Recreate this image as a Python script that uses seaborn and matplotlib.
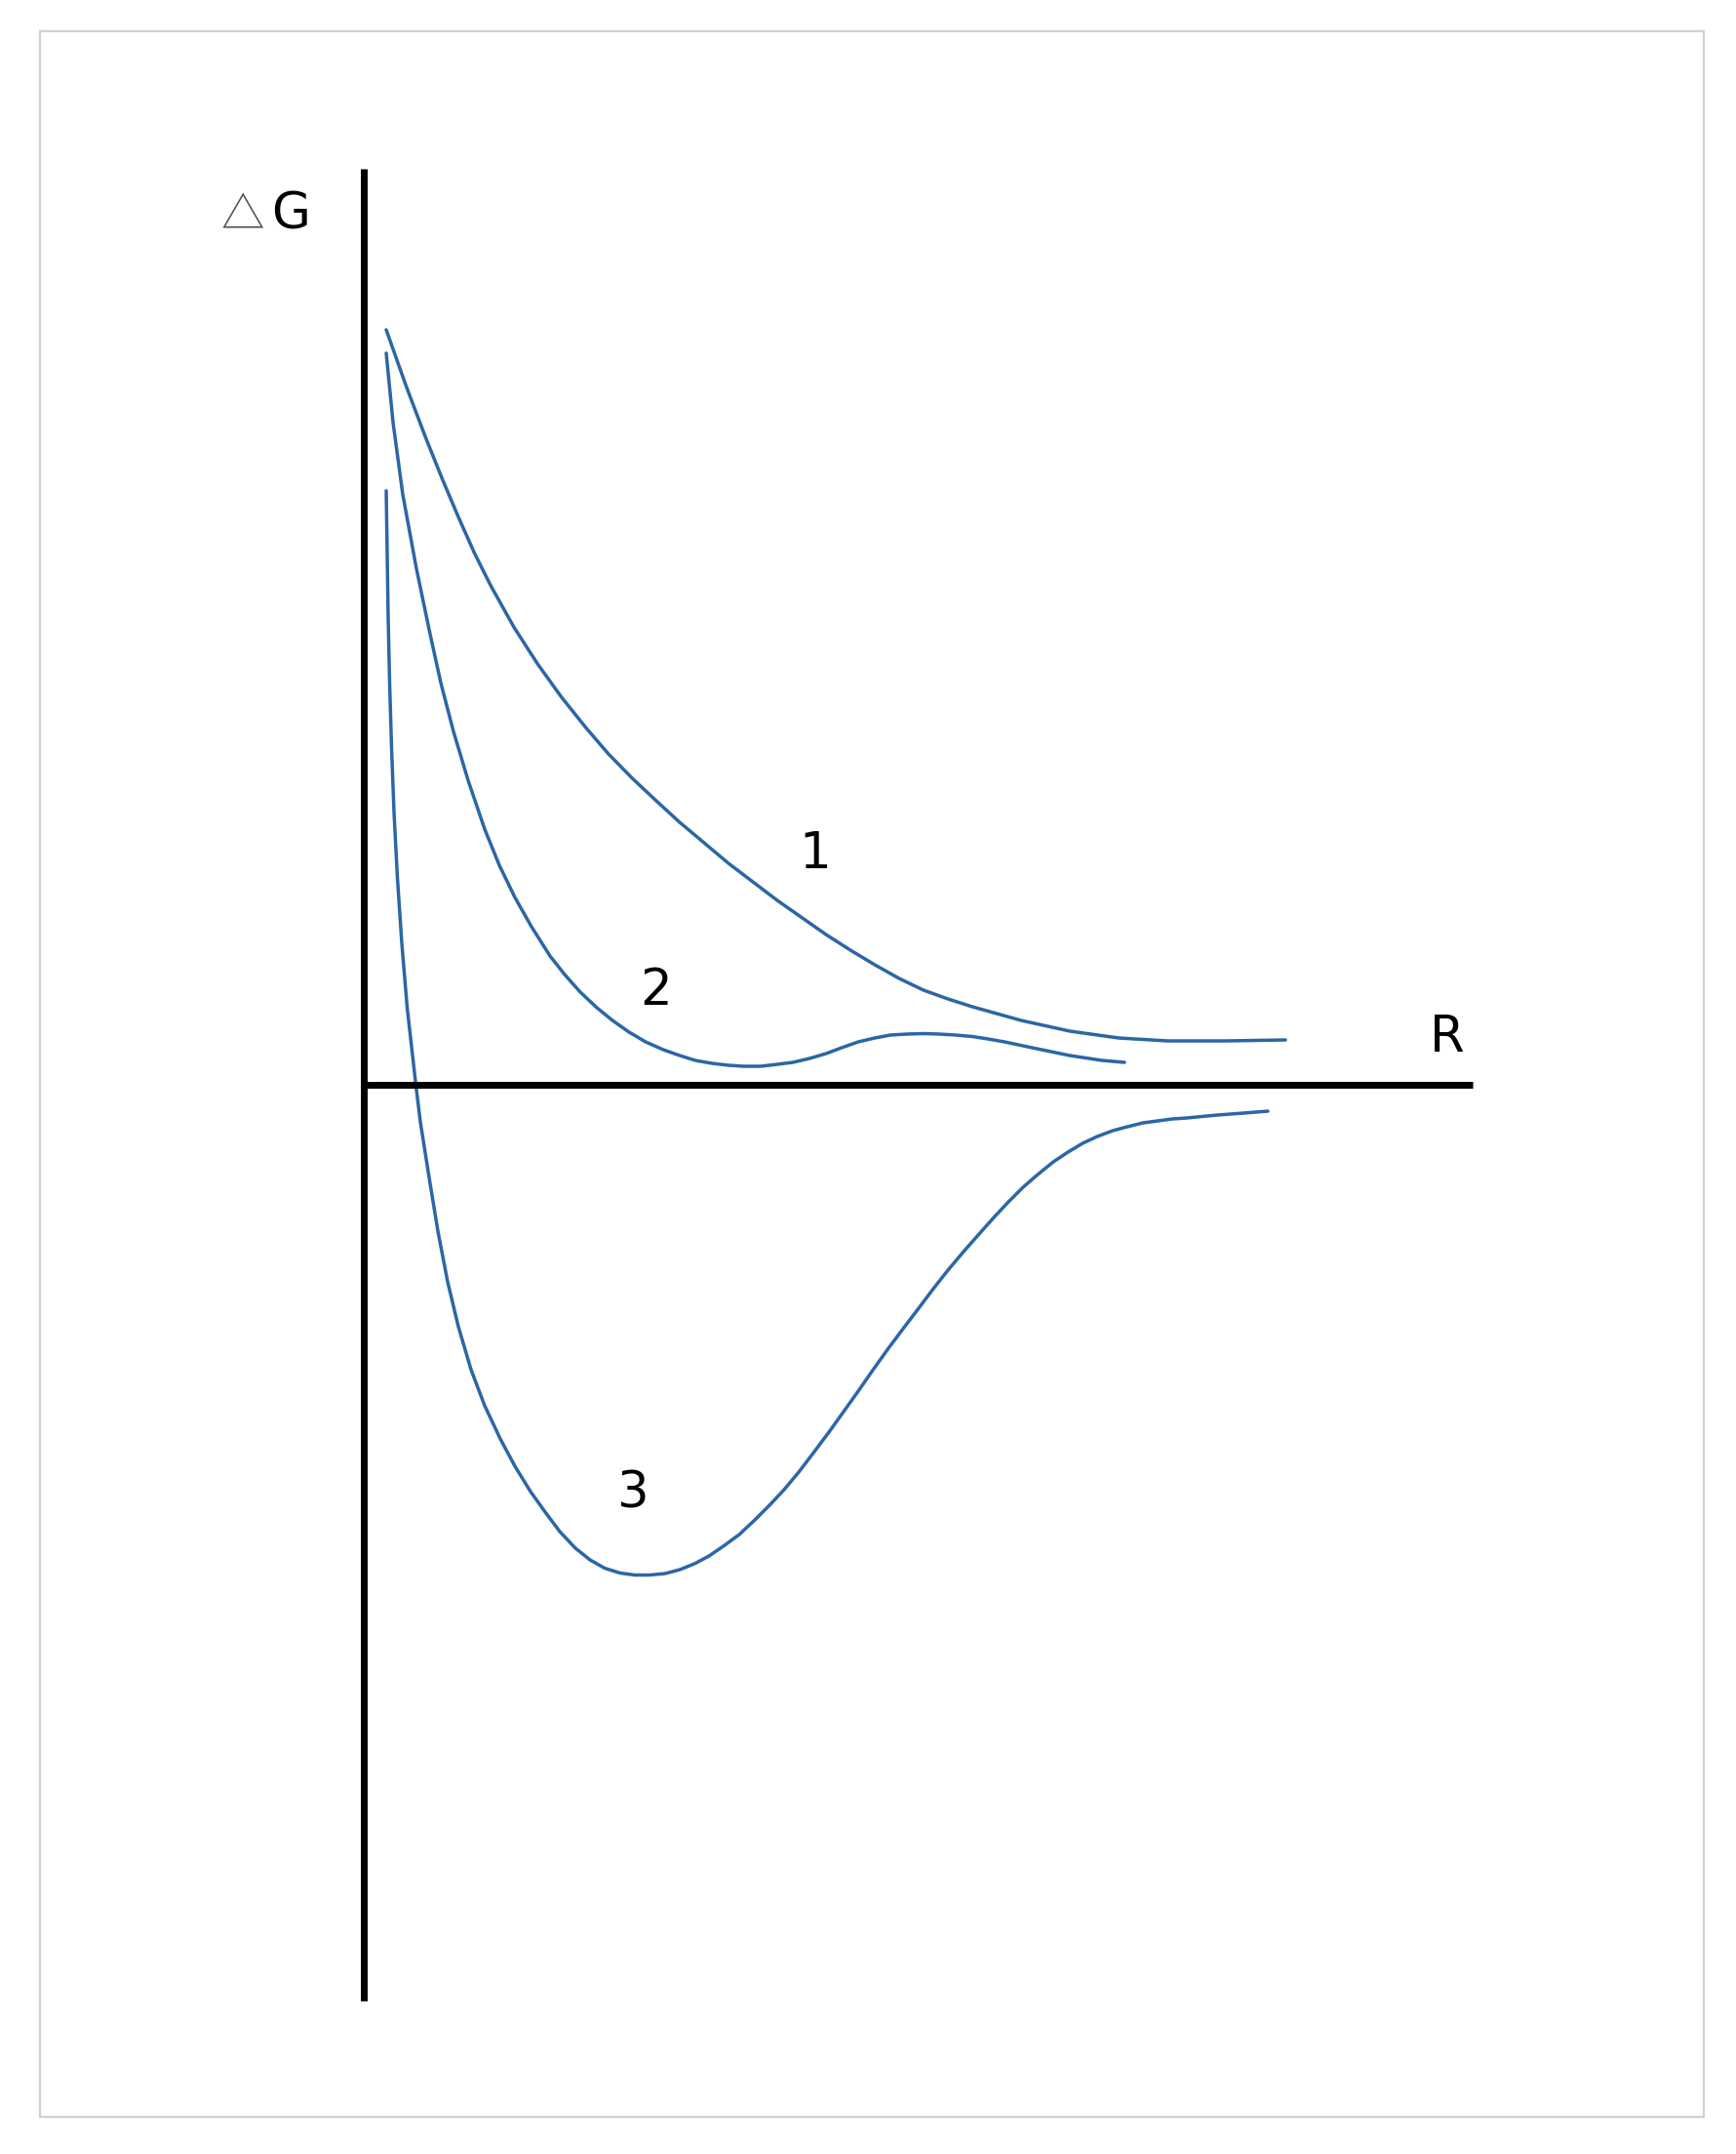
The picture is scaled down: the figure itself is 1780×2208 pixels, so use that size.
import numpy as np
import pandas as pd
import matplotlib
matplotlib.use("Agg")
import matplotlib.pyplot as plt
from matplotlib.patches import Rectangle
import seaborn as sns

# curve 1 - pure repulsion
r1 = [0.23, 0.435, 0.64, 0.805, 0.97, 1.135, 1.30, 1.54, 1.785, 2.03, 2.27, 2.51, 2.755, 3.00,
      3.24, 3.74, 4.24, 4.74, 4.99, 5.24, 5.49, 5.74, 5.99, 6.24, 6.74, 7.24, 7.74, 8.24,
      8.84, 9.45]
g1 = [7.74, 7.16, 6.62, 6.21, 5.82, 5.45, 5.12, 4.69, 4.31, 3.97, 3.67, 3.39, 3.14, 2.91,
      2.69, 2.27, 1.89, 1.54, 1.38, 1.23, 1.09, 0.97, 0.88, 0.80, 0.66, 0.55, 0.48, 0.45,
      0.45, 0.46]

# curve 2 - shallow minimum with small barrier
r2 = [0.23, 0.30, 0.40, 0.54, 0.68, 0.79, 0.92, 1.07, 1.24, 1.39, 1.55, 1.72, 1.91, 2.06,
      2.22, 2.39, 2.55, 2.72, 2.89, 3.07, 3.24, 3.40, 3.57, 3.74, 3.90, 4.07, 4.24, 4.40,
      4.57, 4.74, 4.90, 5.07, 5.24, 5.40, 5.57, 5.74, 5.90, 6.07, 6.24, 6.40, 6.57, 6.90,
      7.24, 7.57, 7.80]
g2 = [7.50, 6.79, 6.05, 5.29, 4.62, 4.12, 3.62, 3.12, 2.62, 2.25, 1.92, 1.62, 1.32, 1.13,
      0.95, 0.79, 0.66, 0.54, 0.44, 0.36, 0.30, 0.25, 0.22, 0.20, 0.19, 0.19, 0.21, 0.23,
      0.27, 0.32, 0.38, 0.44, 0.48, 0.51, 0.52, 0.525, 0.52, 0.51, 0.495, 0.47, 0.44, 0.37,
      0.30, 0.25, 0.23]

# curve 3 - deep well
r3 = [0.23, 0.24, 0.25, 0.265, 0.285, 0.31, 0.345, 0.39, 0.445, 0.535, 0.58, 0.67, 0.76, 0.86,
      0.97, 1.10, 1.24, 1.40, 1.55, 1.71, 1.86, 2.01, 2.17, 2.32, 2.47, 2.63, 2.78, 2.93,
      3.09, 3.24, 3.39, 3.54, 3.70, 3.85, 4.01, 4.16, 4.31, 4.46, 4.62, 4.77, 4.92, 5.07,
      5.23, 5.38, 5.53, 5.69, 5.84, 5.99, 6.15, 6.30, 6.46, 6.61, 6.76, 6.91, 7.07, 7.22,
      7.37, 7.52, 7.68, 7.83, 7.99, 8.14, 8.29, 8.44, 8.75, 9.02, 9.27]
g3 = [6.09, 5.45, 4.79, 4.12, 3.45, 2.79, 2.12, 1.45, 0.79, -0.01, -0.38, -0.95, -1.50, -2.02,
      -2.48, -2.92, -3.29, -3.63, -3.91, -4.17, -4.38, -4.58, -4.75, -4.87, -4.955, -5.005, -5.025, -5.025,
      -5.01, -4.97, -4.91, -4.83, -4.72, -4.61, -4.46, -4.31, -4.15, -3.97, -3.76, -3.56, -3.35, -3.14,
      -2.91, -2.70, -2.50, -2.29, -2.09, -1.90, -1.71, -1.54, -1.36, -1.20, -1.05, -0.92, -0.79, -0.69,
      -0.60, -0.53, -0.47, -0.43, -0.39, -0.37, -0.35, -0.34, -0.31, -0.29, -0.27]

curve_labels = ["1", "2", "3"]
label_pos = [(4.63, 2.36), (3.00, 0.96), (2.75, -4.19)]

df = pd.concat([
    pd.DataFrame({"R": r1, "G": g1, "curve": "1"}),
    pd.DataFrame({"R": r2, "G": g2, "curve": "2"}),
    pd.DataFrame({"R": r3, "G": g3, "curve": "3"}),
], ignore_index=True)

sns.set_style("white")
plt.rcParams["font.family"] = ["DejaVu Sans"]

blue = "#2c66a5"
fig = plt.figure(figsize=(17.81, 22.08), dpi=100)
ax = fig.add_axes([0, 0, 1, 1])

sns.lineplot(data=df, x="R", y="G", hue="curve", palette={c: blue for c in curve_labels},
             estimator=None, sort=False, legend=False, linewidth=2.5, ax=ax)
for line in ax.lines:
    line.set_solid_joinstyle("round")

# the two thick axes
ax.plot([0, 0], [-9.39, 9.39], color="black", lw=5.0, solid_capstyle="butt")
ax.plot([0, 11.37], [0, 0], color="black", lw=5.0, solid_capstyle="butt")

for lab, (x, y) in zip(curve_labels, label_pos):
    ax.text(x, y, lab, fontsize=37, ha="center", va="center", color="black")

ax.text(11.11, 0.48, "R", fontsize=37, ha="center", va="center", color="black")
ax.text(-1.24, 8.91, "△", fontsize=32, ha="center", va="center", color="#555555",
        family=["Noto Sans CJK SC", "DejaVu Sans"])
ax.text(-0.75, 8.91, "G", fontsize=37, ha="center", va="center", color="black")

ax.set_xlim(-3.73, 14.08)
ax.set_ylim(-10.96, 11.12)
ax.axis("off")

# thin grey frame round the picture
fig.patches.append(Rectangle((41 / 1781, 38 / 2208), 1706 / 1781, 2138 / 2208,
                             transform=fig.transFigure, fill=False,
                             edgecolor="#d0d0d0", lw=1.6))

fig.savefig("out.png", dpi=100, facecolor="white")
